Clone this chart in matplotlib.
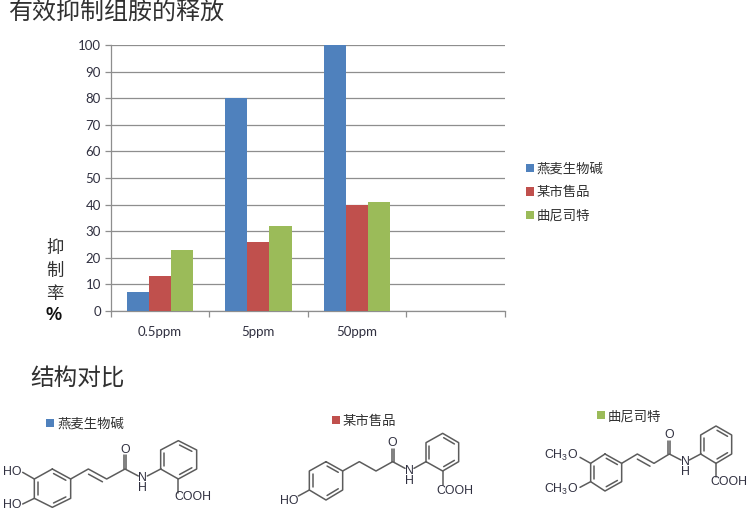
import numpy as np
import matplotlib
matplotlib.use('Agg')
import matplotlib.pyplot as plt

plt.rcParams['font.family'] = ['Noto Sans CJK SC', 'DejaVu Sans']
plt.rcParams['mathtext.default'] = 'regular'

categories = ['0.5ppm', '5ppm', '50ppm']
series_names = ['燕麦生物碱', '某市售品', '曲尼司特']
oat_values = [7, 80, 100]
market_values = [13, 26, 40]
tranilast_values = [23, 32, 41]
colors = ['#4F81BD', '#C0504D', '#9BBB59']
yticks = list(range(0, 101, 10))

W, H = 753, 522
fig = plt.figure(figsize=(W / 100, H / 100), dpi=100)

# bar chart, placed in pixels of the reference
ax = fig.add_axes([110.5 / W, (H - 311) / H, 394.5 / W, 266 / H])
bar_w = 0.2235
x = np.arange(len(categories))
for i, vals in enumerate([oat_values, market_values, tranilast_values]):
    ax.bar(x + (i - 1) * bar_w, vals, bar_w, color=colors[i], label=series_names[i], zorder=3)

ax.set_xlim(-0.5, 3.5)
ax.set_ylim(0, 100)
ax.set_yticks(yticks)
ax.set_xticks(x)
ax.set_xticklabels(categories)
ax.set_xticks(np.arange(-0.5, 3.6, 1), minor=True)
ax.grid(axis='y', color='#8E8E8E', lw=0.9, zorder=1)
ax.tick_params(axis='y', length=4, width=0.9, color='#8E8E8E', labelsize=9.5, labelcolor='#303040', pad=3)
ax.tick_params(axis='x', which='major', length=0, labelsize=9.5, labelcolor='#303040', pad=11)
ax.tick_params(axis='x', which='minor', length=4, width=0.9, color='#8E8E8E')
for lab in ax.get_xticklabels() + ax.get_yticklabels():
    lab.set_fontfamily('Lato')
for s in ['top', 'right']:
    ax.spines[s].set_visible(False)
for s in ['left', 'bottom']:
    ax.spines[s].set_color('#8E8E8E')
    ax.spines[s].set_linewidth(0.9)

ax.legend(loc='center left', bbox_to_anchor=(1.022, 0.447), frameon=False, fontsize=9.6,
          handlelength=0.6, handleheight=0.6, handletextpad=0.2, labelspacing=0.72,
          labelcolor='#303030')

# overlay in reference pixels for titles and the structures
ov = fig.add_axes([0, 0, 1, 1], zorder=5)
ov.set_xlim(0, W)
ov.set_ylim(H, 0)
ov.axis('off')
ov.patch.set_alpha(0)

ov.text(8, 11.5, '有效抑制组胺的释放', fontsize=17.3, color='#303030', va='center', ha='left')
ov.text(30, 379, '结构对比', fontsize=17, color='#303030', va='center', ha='left')
for label_text, yy in zip(['抑', '制', '率'], [248, 271, 294]):
    ov.text(55, yy, label_text, fontsize=12.5, color='#303030', va='center', ha='center')
ov.text(53.5, 315, '%', fontsize=13, color='#101010', va='center', ha='center',
        family='Liberation Sans', weight='bold')

LINE = '#5C5C5C'
TXT = '#303040'


def poly(ox, oy, pts, lw=1.1):
    p = np.array(pts, dtype=float) / 3
    ov.plot(p[:, 0] + ox, p[:, 1] + oy, color=LINE, lw=lw, solid_capstyle='round')


def ring(ox, oy, pts, doubles):
    poly(ox, oy, pts + [pts[0]])
    c = np.mean(pts, axis=0)
    for k in doubles:
        a = np.array(pts[k], dtype=float)
        b = np.array(pts[(k + 1) % 6], dtype=float)
        a2 = a + (c - a) * 0.2
        b2 = b + (c - b) * 0.2
        a3 = a2 + (b2 - a2) * 0.08
        b3 = b2 - (b2 - a2) * 0.08
        poly(ox, oy, [a3, b3])


def label(ox, oy, xx, yy, s, ha='center'):
    ov.text(ox + xx / 3, oy + yy / 3, s, fontsize=8.9, color=TXT, va='center', ha=ha,
            family='Liberation Sans', zorder=6, linespacing=0.8)


def double_chain(ox, oy, a, b, off):
    a = np.array(a, dtype=float)
    b = np.array(b, dtype=float)
    poly(ox, oy, [a + (b - a) * 0.12 + off, b - (b - a) * 0.12 + off])


def caption(xs, xt, yy, idx):
    ov.plot([xs], [yy], marker='s', ms=5.6, color=colors[idx], mew=0)
    ov.text(xt, yy + 1, series_names[idx], fontsize=9.6, color='#303030', va='center', ha='left')


# structure 1
ox, oy = 0, 400
ring(ox, oy, [(157, 207), (212, 237), (212, 295), (157, 322), (103, 295), (103, 237)], [0, 2, 4])
poly(ox, oy, [(212, 237), (265, 207), (320, 237), (375, 207), (415, 228)])
double_chain(ox, oy, (265, 207), (320, 237), (-6, 12))
poly(ox, oy, [(372, 207), (372, 165)])
poly(ox, oy, [(378, 207), (378, 165)])
poly(ox, oy, [(442, 228), (482, 207)])
ring(ox, oy, [(482, 207), (482, 150), (535, 122), (590, 150), (590, 207), (535, 237)], [0, 2, 4])
poly(ox, oy, [(535, 237), (535, 278)])
poly(ox, oy, [(103, 237), (68, 217)])
poly(ox, oy, [(103, 295), (68, 312)])
label(ox, oy, 375, 150, 'O')
label(ox, oy, 428, 250, 'N\nH')
label(ox, oy, 580, 290, 'COOH')
label(ox, oy, 37, 215, 'HO')
label(ox, oy, 37, 315, 'HO')
caption(50, 57, 423, 0)

# structure 2
ox, oy = 270, 400
ring(ox, oy, [(168, 185), (218, 213), (218, 270), (168, 300), (118, 270), (118, 213)], [0, 2, 4])
poly(ox, oy, [(218, 213), (268, 185), (318, 213), (368, 185), (405, 205)])
poly(ox, oy, [(365, 185), (365, 146)])
poly(ox, oy, [(371, 185), (371, 146)])
poly(ox, oy, [(432, 205), (468, 185)])
ring(ox, oy, [(468, 185), (468, 128), (518, 100), (566, 128), (566, 185), (518, 213)], [0, 2, 4])
poly(ox, oy, [(518, 213), (518, 256)])
poly(ox, oy, [(118, 270), (85, 288)])
label(ox, oy, 368, 130, 'O')
label(ox, oy, 418, 228, 'N\nH')
label(ox, oy, 555, 272, 'COOH')
label(ox, oy, 58, 302, 'HO')
caption(336, 343, 420, 1)

# structure 3
ox, oy = 530, 400
ring(ox, oy, [(225, 162), (275, 190), (275, 245), (225, 273), (182, 245), (182, 190)], [0, 2, 4])
poly(ox, oy, [(275, 190), (322, 162), (372, 190), (418, 162), (453, 180)])
double_chain(ox, oy, (322, 162), (372, 190), (-6, 12))
poly(ox, oy, [(415, 162), (415, 122)])
poly(ox, oy, [(421, 162), (421, 122)])
poly(ox, oy, [(478, 180), (512, 162)])
ring(ox, oy, [(512, 162), (512, 105), (558, 78), (605, 105), (605, 162), (558, 190)], [0, 2, 4])
poly(ox, oy, [(558, 190), (558, 232)])
poly(ox, oy, [(182, 190), (150, 172)])
poly(ox, oy, [(182, 245), (150, 262)])
label(ox, oy, 418, 105, 'O')
label(ox, oy, 465, 202, 'N\nH')
label(ox, oy, 598, 246, 'COOH')
label(ox, oy, 146, 167, 'CH$_3$O', ha='right')
label(ox, oy, 146, 267, 'CH$_3$O', ha='right')
caption(601, 608, 415, 2)

fig.savefig('out.png', dpi=100)
